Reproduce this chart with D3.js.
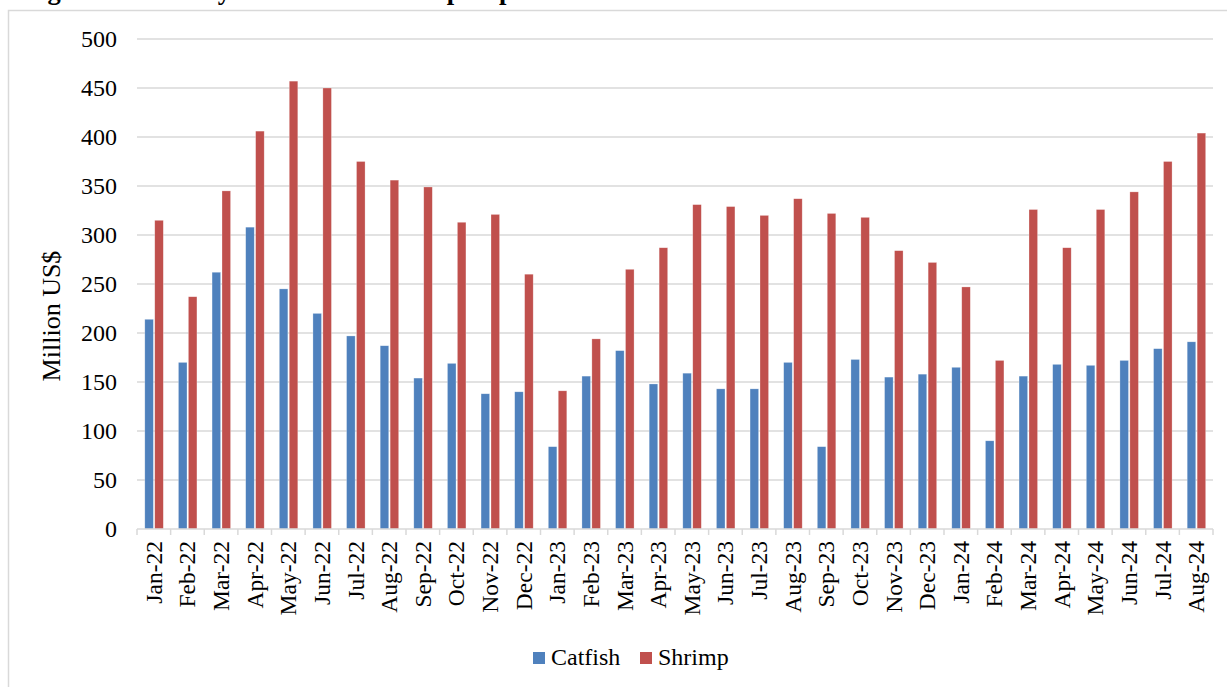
<!DOCTYPE html>
<html>
<head>
<meta charset="utf-8">
<script src="https://cdn.jsdelivr.net/npm/d3@7"></script>
<style>
  html, body { margin: 0; padding: 0; background: #fff; }
  svg { display: block; font-family: "Liberation Serif", "Times New Roman", serif; }
</style>
</head>
<body>
<svg id="chart" width="1227" height="687"></svg>
<script>
// Monthly export values, million US$
const months = ["Jan-22","Feb-22","Mar-22","Apr-22","May-22","Jun-22","Jul-22","Aug-22","Sep-22","Oct-22","Nov-22","Dec-22",
                "Jan-23","Feb-23","Mar-23","Apr-23","May-23","Jun-23","Jul-23","Aug-23","Sep-23","Oct-23","Nov-23","Dec-23",
                "Jan-24","Feb-24","Mar-24","Apr-24","May-24","Jun-24","Jul-24","Aug-24"];
const catfish = [214,170,262,308,245,220,197,187,154,169,138,140,
                 84,156,182,148,159,143,143,170,84,173,155,158,
                 165,90,156,168,167,172,184,191];
const shrimp  = [315,237,345,406,457,450,375,356,349,313,321,260,
                 141,194,265,287,331,329,320,337,322,318,284,272,
                 247,172,326,287,326,344,375,404];
const seriesNames = ["Catfish","Shrimp"];
const seriesColors = ["#4F81BD","#C0504D"];
const yTicks = [0,50,100,150,200,250,300,350,400,450,500];

const svg = d3.select("#chart");

// outer chart frame
svg.append("rect")
  .attr("x", 8.5).attr("y", 10.5)
  .attr("width", 1230).attr("height", 700)
  .attr("fill", "#fff").attr("stroke", "#D9D9D9").attr("stroke-width", 1.5);

// figure caption
svg.append("text")
  .attr("x", 24).attr("y", -1)
  .attr("font-size", 26.5).attr("font-weight", "bold")
  .attr("fill", "#000")
  .text("Figure 1: Monthly Catfish and Shrimp Exports to US");

const plot = { left: 137, right: 1213, top: 39, bottom: 529 };

const x = d3.scaleBand().domain(months).range([plot.left, plot.right]).padding(0);
const y = d3.scaleLinear().domain([0, 500]).range([plot.bottom, plot.top]);
const inner = d3.scaleBand().domain(seriesNames).range([-9, 9.5]).paddingInner(0.14);

// horizontal gridlines
svg.append("g")
  .selectAll("line")
  .data(yTicks.filter(d => d > 0))
  .join("line")
  .attr("x1", plot.left).attr("x2", plot.right)
  .attr("y1", d => y(d)).attr("y2", d => y(d))
  .attr("stroke", "#D9D9D9").attr("stroke-width", 1.5);

// y-axis tick labels
svg.append("g")
  .selectAll("text")
  .data(yTicks)
  .join("text")
  .attr("x", 117).attr("y", d => y(d))
  .attr("dy", "0.35em")
  .attr("text-anchor", "end")
  .attr("font-size", 24)
  .attr("fill", "#000")
  .text(d => d);

// bars
const rows = months.map((m, i) => ({ month: m, values: [catfish[i], shrimp[i]] }));
const groups = svg.append("g")
  .selectAll("g")
  .data(rows)
  .join("g")
  .attr("transform", d => `translate(${x(d.month) + x.bandwidth() / 2},0)`);

groups.selectAll("rect")
  .data(d => d.values.map((v, k) => ({ key: seriesNames[k], value: v, k })))
  .join("rect")
  .attr("x", d => inner(d.key))
  .attr("width", inner.bandwidth())
  .attr("y", d => y(d.value))
  .attr("height", d => y(0) - y(d.value))
  .attr("fill", d => seriesColors[d.k])
  .attr("stroke", "#ffffff").attr("stroke-opacity", 0.45).attr("stroke-width", 0.6);

// category axis
const xAxis = svg.append("g").attr("transform", `translate(0,${plot.bottom})`);
xAxis.append("line")
  .attr("x1", plot.left).attr("x2", plot.right)
  .attr("y1", 0).attr("y2", 0)
  .attr("stroke", "#D9D9D9").attr("stroke-width", 1.5);
xAxis.selectAll("line.tick")
  .data(months.concat(["__end"]))
  .join("line")
  .attr("class", "tick")
  .attr("x1", (d, i) => plot.left + i * x.bandwidth())
  .attr("x2", (d, i) => plot.left + i * x.bandwidth())
  .attr("y1", 0).attr("y2", 6)
  .attr("stroke", "#D9D9D9").attr("stroke-width", 1.5);
xAxis.selectAll("text")
  .data(months)
  .join("text")
  .attr("transform", d => `translate(${x(d) + x.bandwidth() / 2 + 8},12) rotate(-90)`)
  .attr("text-anchor", "end")
  .attr("font-size", 23.5)
  .attr("fill", "#000")
  .text(d => d);

// y-axis title
svg.append("text")
  .attr("transform", "translate(60,316) rotate(-90)")
  .attr("text-anchor", "middle")
  .attr("font-size", 26)
  .attr("fill", "#000")
  .text("Million US$");

// legend
const legend = svg.append("g").attr("transform", "translate(533,652)");
const legendItems = legend.selectAll("g")
  .data(seriesNames)
  .join("g")
  .attr("transform", (d, i) => `translate(${i * 107},0)`);
legendItems.append("rect")
  .attr("width", 12).attr("height", 12)
  .attr("fill", (d, i) => seriesColors[i]);
legendItems.append("text")
  .attr("x", 18).attr("y", 12.5)
  .attr("font-size", 24)
  .attr("fill", "#000")
  .text(d => d);
</script>
</body>
</html>
